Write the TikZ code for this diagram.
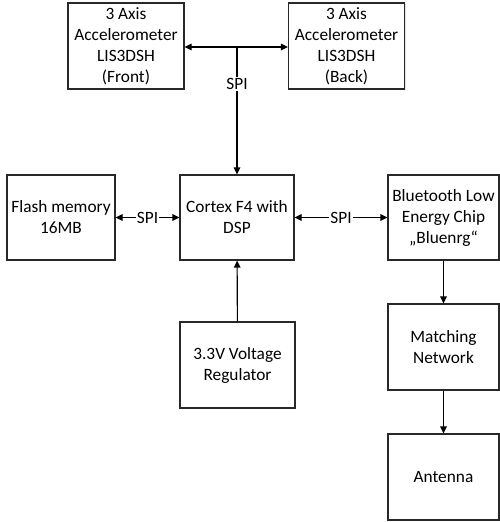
\documentclass[tikz,border=0pt]{standalone}
\usepackage{fontspec}
\setmainfont{Carlito}
\usetikzlibrary{arrows.meta,shadows}
\definecolor{boxline}{RGB}{40,40,40}
\definecolor{boxshade}{RGB}{180,200,225}
\tikzset{
  blk/.style={rectangle, draw=boxline, fill=white, line width=1.1pt,
              inner sep=2pt, align=center,
              font=\fontsize{17.3}{21}\selectfont,
              drop shadow={shadow xshift=1.2pt, shadow yshift=-1.2pt,
                           fill=boxshade, opacity=0.5}},
  link/.style={line width=1.1pt, black},
  lnk/.style={link, -{Triangle[length=7pt, width=6.5pt]}},
  lnkboth/.style={link, {Triangle[length=7pt, width=6.5pt]}-{Triangle[length=7pt, width=6.5pt]}},
  buslbl/.style={fill=white, inner sep=1pt, font=\fontsize{17.3}{21}\selectfont},
}
\begin{document}
\begin{tikzpicture}[x=1pt, y=-1pt]
\useasboundingbox (0,0) rectangle (500,522);
\node[blk, minimum width=116pt, minimum height=86pt] (accf) at (126,46) {3 Axis\\Accelerometer\\LIS3DSH\\(Front)};
\node[blk, minimum width=116pt, minimum height=86pt] (accb) at (346.5,46) {3 Axis\\Accelerometer\\LIS3DSH\\(Back)};
\node[blk, minimum width=108pt, minimum height=85pt] (flash) at (61,217.5) {Flash memory\\16MB};
\node[blk, minimum width=114pt, minimum height=85pt] (cortex) at (237,217.5) {Cortex F4 with\\DSP};
\node[blk, minimum width=111pt, minimum height=85pt] (ble) at (443.5,217.5) {Bluetooth Low\\Energy Chip\\\char"201E Bluenrg\char"201C};
\node[blk, minimum width=115pt, minimum height=86pt] (reg) at (237.5,365) {3.3V Voltage\\Regulator};
\node[blk, minimum width=111pt, minimum height=86pt] (match) at (443.5,347) {Matching\\Network};
\node[blk, minimum width=111pt, minimum height=86pt] (ant) at (443.5,477) {Antenna};
\coordinate (spij) at (237,47);
% sensor bus
\draw[lnkboth] (accf.east |- spij) -- (accb.west |- spij);
\draw[lnk] (spij) -- node[buslbl, pos=0.29] {SPI} (cortex.north);
% memory and radio
\draw[lnkboth] (flash) -- node[buslbl] {SPI} (cortex);
\draw[lnkboth] (cortex) -- node[buslbl] {SPI} (ble);
\draw[lnk] (reg) -- (cortex);
\draw[lnk] (ble) -- (match);
\draw[lnk] (match) -- (ant);
\end{tikzpicture}
\end{document}
